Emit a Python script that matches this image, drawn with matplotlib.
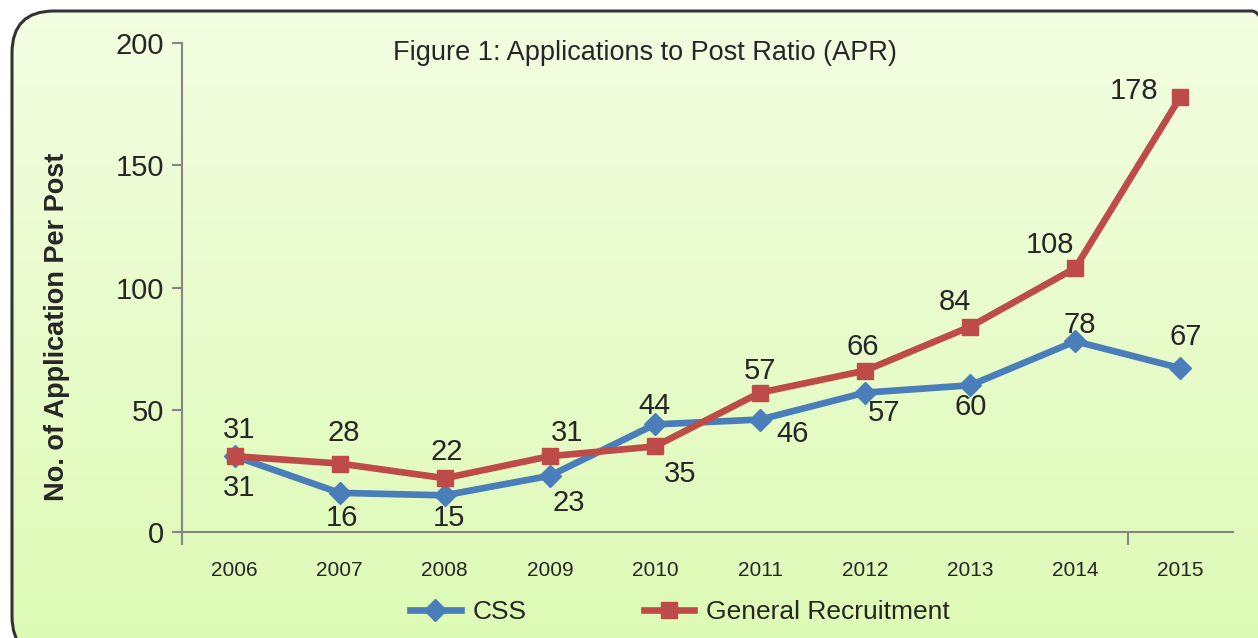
import numpy as np
import matplotlib
matplotlib.use("Agg")
import matplotlib.pyplot as plt
from matplotlib.patches import FancyBboxPatch
from matplotlib.lines import Line2D

plt.rcParams.update({
    "font.family": ["Liberation Sans", "DejaVu Sans"],
    "font.size": 14,
    "text.color": "#262626",
})

years = ["2006", "2007", "2008", "2009", "2010",
         "2011", "2012", "2013", "2014", "2015"]
css = [31, 16, 15, 23, 44, 46, 57, 60, 78, 67]
general = [31, 28, 22, 31, 35, 57, 66, 84, 108, 178]

# label offsets in pixels (dx, dy) relative to each marker
css_offsets = [(5, -32), (2, -25), (4, -23), (19, -27), (0, 18),
               (33, -14), (19, -20), (0, -22), (4, 16), (5, 31)]
gen_offsets = [(5, 26), (4, 31), (2, 26), (17, 23), (25, -28),
               (0, 22), (-2, 24), (-15, 25), (-25, 23), (-46, 6)]

BLUE = "#4A7EBB"
RED = "#BE4B48"
GREY = "#868686"

fig = plt.figure(figsize=(12.58, 6.38), dpi=100)
W, H = 1258, 638

# rounded panel with a soft green gradient, running off the right/bottom edge
bg = fig.add_axes([0, 0, 1, 1], zorder=-5)
grad = np.linspace(0, 1, 256).reshape(-1, 1)
top = np.array([0.955, 0.995, 0.885])
bot = np.array([0.865, 0.980, 0.705])
img = top + (bot - top) * grad[:, :, None]
im = bg.imshow(img, extent=[12, W + 80, -20, H - 11], origin="upper",
               aspect="auto", zorder=0)
panel = FancyBboxPatch((12, -20), W + 36 - 12, H - 11 + 20,
                       boxstyle="round,pad=0,rounding_size=42",
                       facecolor="none", edgecolor="#333333", linewidth=2.2,
                       zorder=1)
bg.add_patch(panel)
im.set_clip_path(panel)
bg.set_xlim(0, W)
bg.set_ylim(0, H)
bg.axis("off")

ax = fig.add_axes([182 / W, 1 - 532 / H, (1233 - 182) / W, (532 - 43) / H])
ax.set_facecolor("none")
x = np.arange(len(years))

ax.plot(x, css, color=BLUE, linewidth=4.8, marker="D", markersize=11,
        zorder=3, label="CSS")
ax.plot(x, general, color=RED, linewidth=4.8, marker="s", markersize=12,
        zorder=4, label="General Recruitment")

for xi, v, (dx, dy) in zip(x, css, css_offsets):
    ax.annotate(str(v), (xi, v), xytext=(dx, dy), textcoords="offset pixels",
                ha="center", va="center", fontsize=21, color="#262626")
for xi, v, (dx, dy) in zip(x, general, gen_offsets):
    ax.annotate(str(v), (xi, v), xytext=(dx, dy), textcoords="offset pixels",
                ha="center", va="center", fontsize=21, color="#262626")

ax.set_xlim(-0.5, len(years) - 0.5)
ax.set_ylim(0, 200)
ax.set_yticks([0, 50, 100, 150, 200])
ax.tick_params(axis="y", direction="out", length=7, width=1.5, color=GREY,
               labelsize=21, labelcolor="#262626", pad=6)

ax.set_xticks([-0.5, 8.5])
ax.set_xticklabels(["", ""])
ax.set_xticks(x, minor=True)
ax.set_xticklabels(years, minor=True)
ax.tick_params(axis="x", which="major", direction="out", length=9,
               width=1.5, color=GREY)
ax.tick_params(axis="x", which="minor", length=0, labelsize=15,
               labelcolor="#262626", pad=21)

for side in ["top", "right"]:
    ax.spines[side].set_visible(False)
for side in ["left", "bottom"]:
    ax.spines[side].set_color(GREY)
    ax.spines[side].set_linewidth(1.5)

fig.text(645 / W, 1 - 53 / H, "Figure 1: Applications to Post Ratio (APR)",
         ha="center", va="center", fontsize=19.5)
fig.text(57 / W, 1 - 327 / H, "No. of Application Per Post", rotation=90,
         ha="center", va="center", fontsize=19.5, fontweight="bold")

handles = [Line2D([], [], color=BLUE, linewidth=4.8, marker="D",
                  markersize=11),
           Line2D([], [], color=RED, linewidth=4.8, marker="s",
                  markersize=12)]
fig.legend(handles, ["CSS", "General Recruitment"], loc="center",
           bbox_to_anchor=(680 / W, 1 - 612 / H), ncol=2, frameon=False,
           fontsize=19, handlelength=1.9, columnspacing=4.45,
           handletextpad=0.45)

fig.savefig("out.png", dpi=100)
